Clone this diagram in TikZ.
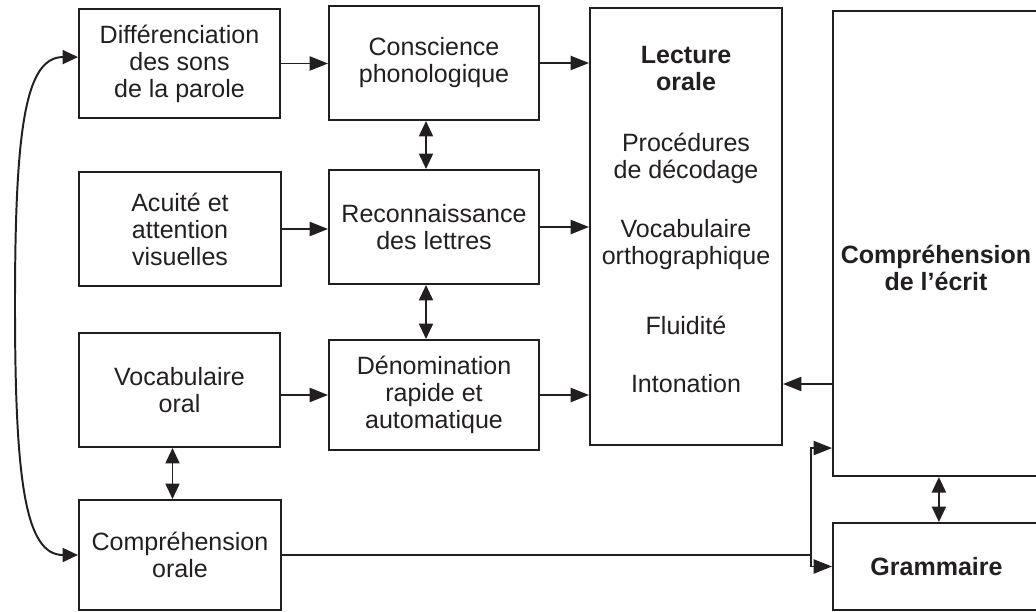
\documentclass[tikz,border=0pt]{standalone}
\usepackage{fontspec}
\setmainfont{Liberation Sans}
\usetikzlibrary{arrows.meta}
\definecolor{ink}{RGB}{35,31,32}
\tikzstyle{blk}=[draw=ink,line width=1.4pt,inner sep=2pt,align=center,text=ink,font=\fontsize{17.8pt}{19.2pt}\selectfont]
\tikzstyle{txt}=[inner sep=0pt,align=center,text=ink,font=\fontsize{17.8pt}{19.2pt}\selectfont]
\tikzstyle{ln}=[draw=ink,line width=1.4pt]
\tikzstyle{arr}=[ln,-{Triangle[length=13pt,width=10pt]}]
\tikzstyle{darr}=[ln,{Triangle[length=11pt,width=10pt]}-{Triangle[length=11pt,width=10pt]}]

\begin{document}
\begin{tikzpicture}[x=0.025cm,y=-0.025cm]
\useasboundingbox (0,0) rectangle (1036,611);
\node[blk,minimum width=5.025cm,minimum height=2.725cm] (diff) at (179.5,63.5) {Différenciation\\des sons\\de la parole};
\node[blk,minimum width=5.05cm,minimum height=2.85cm] (acuite) at (180,229) {Acuité et\\attention\\visuelles};
\node[blk,minimum width=5.025cm,minimum height=2.85cm] (vocab) at (179.5,390) {Vocabulaire\\oral};
\node[blk,minimum width=5.05cm,minimum height=2.75cm] (comporale) at (180,555) {Compréhension\\orale};
\node[blk,minimum width=5.25cm,minimum height=2.85cm] (consc) at (434,63) {Conscience\\phonologique};
\node[blk,minimum width=5.25cm,minimum height=2.85cm] (reco) at (434,227) {Reconnaissance\\des lettres};
\node[blk,minimum width=5.25cm,minimum height=2.75cm] (denom) at (434,395) {Dénomination\\rapide et\\automatique};
\node[blk,minimum width=4.8cm,minimum height=10.925cm] (lecture) at (686,226.5) {};
\node[txt] (lect) at (686,68.5) {\textbf{Lecture}\\\textbf{orale}};
\node[txt] (proc) at (686,158.5) {Procédures\\de décodage};
\node[txt] (vortho) at (686,245) {Vocabulaire\\orthographique};
\node[txt] (fluid) at (686,325) {Fluidité};
\node[txt] (inton) at (686,384) {Intonation};
\node[blk,minimum width=5.175cm,minimum height=11.625cm] (ecrit) at (936.5,243.5) {};
\node[txt] (ecritlbl) at (936,268) {\textbf{Compréhension}\\\textbf{de l’écrit}};
\node[blk,minimum width=5.175cm,minimum height=2.175cm] (gram) at (936.5,566.5) {\textbf{Grammaire}};
\coordinate (split) at (811,555);

\draw[arr] (diff.east) -- (diff.east -| consc.west);
\draw[arr] (consc.east) -- (consc.east -| lecture.west);
\draw[arr] (acuite.east) -- (acuite.east -| reco.west);
\draw[arr] (reco.east) -- (reco.east -| lecture.west);
\draw[arr] (denom.west -| vocab.east) -- (denom.west);
\draw[arr] (denom.east) -- (denom.east -| lecture.west);
\draw[arr] (ecrit.west |- inton) -- (lecture.east |- inton);
\draw[darr] ([xshift=-0.2cm]consc.south) -- ([xshift=-0.2cm]reco.north);
\draw[darr] ([xshift=-0.2cm]reco.south) -- ([xshift=-0.2cm]reco.south |- denom.north);
\draw[darr] ([xshift=-0.175cm]vocab.south) -- ([xshift=-0.175cm]vocab.south |- comporale.north);
\draw[darr] ([xshift=0.06cm]ecrit.south) -- ([xshift=0.06cm]ecrit.south |- gram.north);
\draw[darr] ([yshift=0.16cm]diff.west) .. controls (25,57) and (15,130) .. (15,305) .. controls (15,480) and (25,555) .. (comporale.west);
\draw[ln] (comporale.east) -- (split);
\draw[arr] (split) |- ([yshift=0.725cm]ecrit.south west);
\draw[arr] (split) |- (gram.west);
\end{tikzpicture}
\end{document}
